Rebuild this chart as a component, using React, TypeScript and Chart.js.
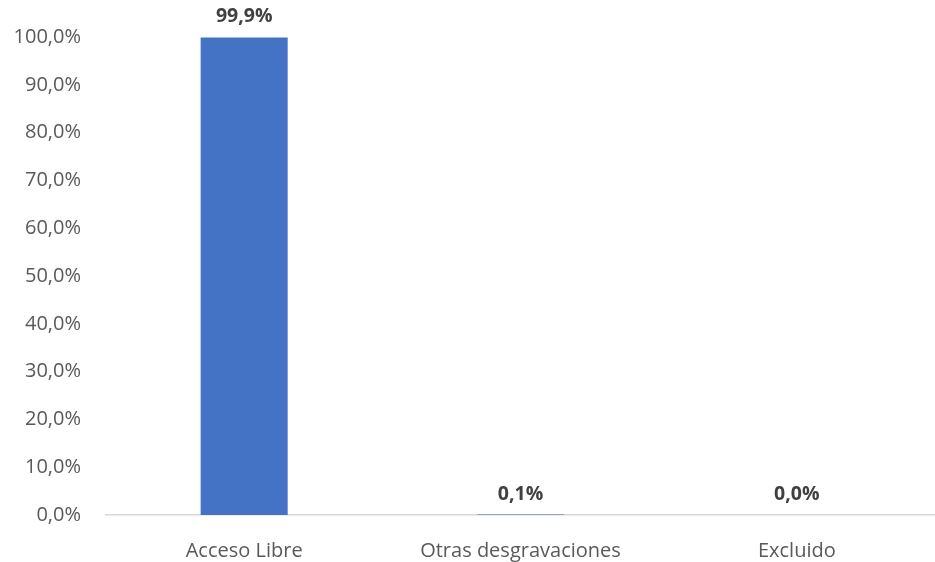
import React, { useEffect, useRef } from "react";
import { Chart, registerables } from "chart.js";

Chart.register(...registerables);

const categories = ["Acceso Libre", "Otras desgravaciones", "Excluido"];
const values = [99.9, 0.1, 0.0];
const yTicks = [0, 10, 20, 30, 40, 50, 60, 70, 80, 90, 100];

const FONT = "'Open Sans', sans-serif";
const fmt = (v: number) => v.toFixed(1).replace(".", ",") + "%";

const labelPlugin = {
  id: "barLabels",
  afterDatasetsDraw(chart: any) {
    const ctx = chart.ctx;
    const meta = chart.getDatasetMeta(0);
    ctx.save();
    ctx.font = `bold 19.5px ${FONT}`;
    ctx.fillStyle = "#404040";
    ctx.textAlign = "center";
    ctx.textBaseline = "alphabetic";
    meta.data.forEach((bar: any, i: number) => {
      ctx.fillText(fmt(values[i]), bar.x, bar.y - 15);
    });
    ctx.restore();
  },
};

export default function App() {
  const ref = useRef<HTMLCanvasElement>(null);
  useEffect(() => {
    if (!ref.current) return;
    const chart = new Chart(ref.current, {
      type: "bar",
      data: {
        labels: categories,
        datasets: [
          {
            data: values,
            backgroundColor: "#4472C4",
            barPercentage: 0.315,
            categoryPercentage: 1,
          },
        ],
      },
      options: {
        animation: false,
        responsive: false,
        maintainAspectRatio: false,
        layout: { padding: { top: 37, right: 0, left: 0, bottom: 0 } },
        plugins: { legend: { display: false }, tooltip: { enabled: false } },
        scales: {
          x: {
            grid: { display: false },
            border: { display: true, color: "#d9d9d9", width: 1.5 },
            ticks: {
              color: "#595959",
              font: { family: FONT, size: 20 },
              padding: 16,
            },
            afterFit: (s: any) => {
              s.height = 47;
            },
          },
          y: {
            min: 0,
            max: 100,
            afterBuildTicks: (s: any) => {
              s.ticks = yTicks.map((v) => ({ value: v }));
            },
            grid: { display: false },
            border: { display: false },
            ticks: {
              color: "#595959",
              font: { family: FONT, size: 20 },
              padding: 17,
              callback: (v: any) => fmt(Number(v)),
            },
            afterFit: (s: any) => {
              s.width = 106;
            },
          },
        },
      },
      plugins: [labelPlugin],
    });
    return () => chart.destroy();
  }, []);
  return (
    <div style={{ position: "fixed", left: 0, top: 0, width: 935, height: 562, background: "#fff" }}>
      <canvas ref={ref} width={935} height={562} style={{ width: 935, height: 562 }} />
    </div>
  );
}
